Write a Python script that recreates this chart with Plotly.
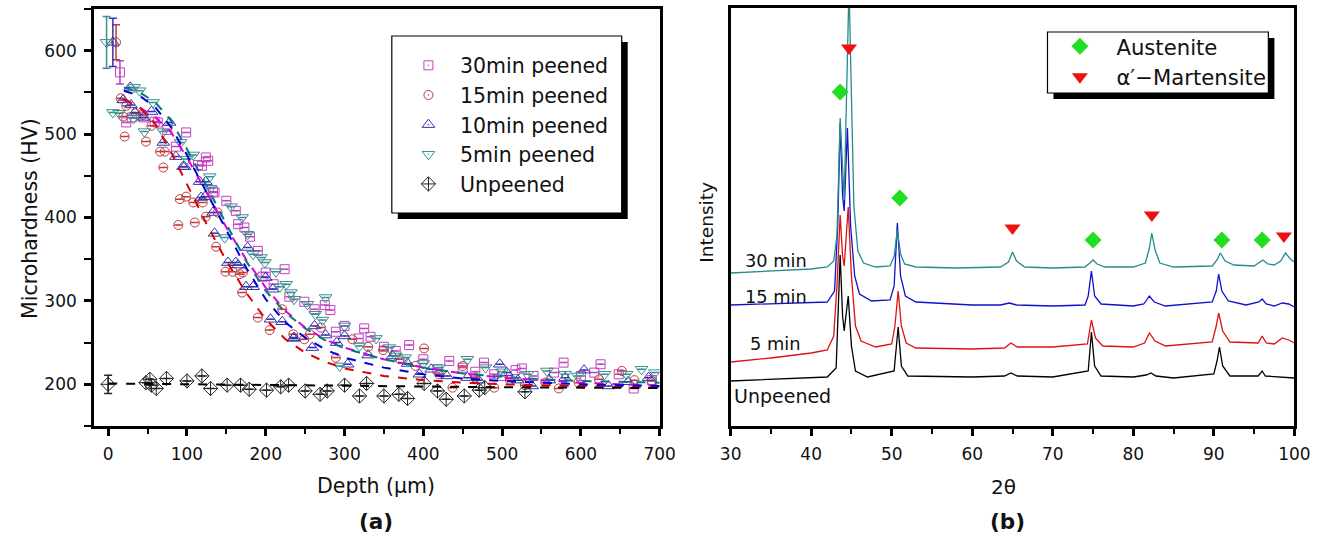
import plotly.graph_objects as go

W, H = 1318, 544
FONT = "DejaVu Sans, Liberation Sans, Arial, sans-serif"

# ---------------- Panel (a): microhardness vs depth ----------------
x_30 = [15, 23, 30, 45, 59, 63, 75, 86, 99, 114, 119, 124, 127, 133, 135, 150, 162, 165, 173, 180, 190, 196, 200, 210, 224, 230, 249, 262, 275, 282, 289, 300, 318, 325, 333, 350, 365, 382, 400, 418, 433, 450, 466, 477, 490, 500, 517, 525, 540, 566, 578, 600, 617, 625, 648, 667, 690]
y_30 = [574, 514, 520, 520, 515, 514, 505, 485, 502, 463, 462, 472, 468, 431, 430, 420, 408, 392, 388, 377, 360, 329, 334, 320, 338, 305, 299, 290, 295, 289, 263, 270, 255, 267, 257, 245, 240, 247, 230, 218, 228, 220, 215, 226, 212, 210, 217, 219, 210, 214, 226, 210, 214, 224, 212, 195, 205]
err_30 = [14] + [0] * (len(x_30) - 1)

x_15 = [10, 16, 19, 21, 23, 35, 44, 48, 55, 66, 70, 72, 89, 91, 99, 108, 110, 120, 124, 137, 139, 149, 158, 167, 170, 171, 190, 205, 221, 235, 249, 256, 270, 289, 310, 330, 349, 370, 390, 401, 420, 437, 450, 466, 490, 510, 529, 555, 572, 597, 623, 652, 668, 690]
y_15 = [610, 543, 521, 497, 534, 525, 523, 491, 510, 479, 460, 479, 391, 422, 425, 418, 394, 418, 401, 365, 406, 335, 335, 332, 310, 334, 280, 265, 290, 260, 254, 260, 268, 232, 254, 245, 241, 230, 222, 243, 212, 196, 222, 208, 196, 205, 199, 202, 195, 202, 206, 216, 205, 204]
err_15 = [21] + [0] * (len(x_15) - 1)

x_10 = [6, 19, 28, 29, 34, 45, 55, 70, 78, 86, 95, 97, 116, 118, 123, 124, 133, 135, 152, 162, 165, 177, 175, 184, 200, 206, 209, 221, 235, 236, 259, 262, 276, 290, 300, 304, 330, 361, 380, 395, 410, 430, 456, 470, 497, 506, 520, 538, 560, 580, 604, 635, 660, 686]
y_10 = [610, 541, 556, 535, 526, 520, 527, 490, 514, 473, 461, 461, 443, 424, 425, 443, 406, 381, 346, 346, 343, 364, 317, 317, 328, 278, 314, 275, 255, 256, 244, 270, 259, 250, 258, 224, 235, 234, 225, 212, 218, 210, 208, 205, 224, 214, 205, 198, 205, 208, 217, 198, 203, 208]
err_10 = [29] + [0] * (len(x_10) - 1)

x_5 = [-2, 6, 14, 32, 33, 40, 46, 57, 70, 92, 100, 108, 129, 130, 148, 156, 170, 177, 184, 194, 199, 213, 218, 226, 232, 236, 253, 263, 272, 276, 294, 300, 319, 340, 357, 365, 377, 400, 420, 456, 479, 500, 532, 557, 580, 596, 630, 658, 677, 694]
y_5 = [610, 526, 525, 519, 556, 552, 503, 538, 503, 490, 470, 475, 449, 435, 376, 413, 400, 380, 356, 352, 346, 335, 317, 320, 310, 302, 296, 284, 277, 304, 222, 270, 246, 255, 244, 234, 232, 225, 220, 230, 220, 215, 212, 216, 212, 210, 212, 212, 218, 214]
err_5 = [31] + [0] * (len(x_5) - 1)

x_un = [0, 48, 53, 55, 61, 74, 100, 119, 130, 151, 168, 179, 201, 219, 229, 250, 269, 278, 300, 319, 328, 350, 369, 380, 401, 418, 429, 452, 471, 478, 529]
y_un = [200, 202, 206, 199, 195, 207, 204, 210, 195, 199, 199, 194, 193, 197, 199, 192, 188, 192, 199, 186, 201, 186, 188, 183, 201, 192, 182, 186, 193, 196, 191]
err_un = [11] + [0] * (len(x_un) - 1)

# fitted (dashed) curves
fit_x = [20, 40, 60, 80, 100, 125, 150, 175, 200, 225, 250, 275, 300, 350, 400, 450, 500, 550, 600, 650, 700]
fit_30 = [542, 532, 520, 502, 472, 430, 388, 350, 316, 288, 268, 254, 244, 230, 220, 213, 208, 205, 202, 200, 198]
fit_15 = [542, 532, 512, 478, 440, 392, 348, 310, 278, 254, 238, 227, 219, 210, 205, 202, 200, 199, 198, 197, 196]
fit_10 = [552, 546, 532, 508, 475, 430, 384, 340, 302, 274, 256, 242, 232, 220, 212, 207, 204, 202, 200, 199, 198]
fit_5 = [556, 550, 538, 516, 482, 438, 392, 348, 312, 286, 267, 253, 243, 230, 220, 213, 209, 206, 204, 203, 202]
fit_un_x = [0, 100, 200, 300, 400, 500, 600, 700]
fit_un = [201, 200, 199, 198, 197, 196.5, 196, 195.5]

# ---------------- Panel (b): XRD patterns ----------------
tt_30 = [30, 35, 40, 42, 42.8, 43.2, 43.6, 44.1, 44.7, 45.3, 45.8, 46.5, 48, 49.8, 50.3, 50.7, 51.1, 51.6, 53, 58, 63.5, 64.5, 65, 65.5, 66.5, 70, 74, 74.6, 75, 75.5, 76.5, 80, 81.5, 82, 82.3, 82.7, 83.3, 85, 89.8, 90.4, 90.8, 91.4, 92.5, 95, 95.6, 96.1, 96.7, 97.5, 98.3, 98.9, 99.5, 100]
int_30 = [153, 155, 157, 159, 165, 190, 308, 226, 440, 220, 175, 163, 159, 160, 170, 196, 172, 162, 159, 158, 159, 164, 174, 165, 159, 158, 159, 163, 166, 162, 159, 159, 163, 178, 193, 176, 163, 159, 160, 166, 173, 165, 161, 160, 163, 166, 162, 161, 165, 173, 167, 164]

tt_15 = [30, 40, 42, 42.9, 43.3, 43.6, 43.9, 44.1, 44.5, 44.9, 45.4, 46, 47.5, 49.8, 50.3, 50.7, 51.1, 51.7, 53, 60, 63.5, 64.6, 65.5, 70, 74, 74.4, 74.8, 75.2, 76, 80, 81.3, 82, 82.6, 84, 89.8, 90.3, 90.6, 91, 91.8, 94, 95.6, 96, 96.5, 97.5, 98.5, 99.3, 100]
int_15 = [121, 123, 124, 135, 200, 303, 230, 215, 298, 200, 150, 132, 125, 126, 140, 203, 150, 130, 124, 121, 121, 123, 121, 120, 121, 130, 155, 130, 122, 120, 122, 130, 124, 120, 124, 135, 152, 135, 125, 121, 124, 127, 122, 120, 123, 122, 119]

tt_5 = [30, 35, 40, 42, 42.8, 43.2, 43.6, 43.9, 44.1, 44.6, 45.0, 45.5, 46.2, 48, 50, 50.4, 50.8, 51.2, 51.8, 53, 60, 64, 64.8, 65.6, 70, 74.3, 74.8, 75.3, 76.2, 80, 81.4, 82, 82.7, 84, 89.8, 90.3, 90.6, 91.1, 92, 95.5, 96, 96.5, 97.5, 98.5, 99.3, 100]
int_5 = [64, 68, 73, 76, 90, 140, 211, 170, 160, 219, 150, 100, 85, 79, 82, 100, 135, 100, 83, 78, 77, 78, 83, 79, 79, 82, 106, 88, 80, 79, 83, 93, 85, 80, 84, 100, 113, 95, 84, 83, 90, 83, 82, 88, 86, 83]

tt_un = [30, 40, 42, 43.1, 43.4, 43.6, 43.9, 44.1, 44.6, 45, 45.5, 47, 50.3, 50.8, 51.2, 52, 60, 64, 64.8, 65.6, 70, 74.4, 74.8, 75.2, 76, 80, 81.6, 82.2, 82.8, 85, 90, 90.4, 90.7, 91.1, 92, 95.5, 96, 96.4, 100]
int_un = [45, 48, 49, 58, 120, 171, 110, 95, 130, 80, 55, 49, 55, 99, 60, 50, 49, 50, 53, 50, 49, 55, 94, 60, 50, 49, 51, 53, 50, 48, 52, 65, 79, 60, 50, 50, 55, 50, 48]

aus_tt = [43.6, 51.0, 75.0, 91.0, 96.0]
aus_int = [334, 228, 186, 186, 186]
mart_tt = [44.7, 65.0, 82.3, 98.7]
mart_int = [378, 198, 211, 190]

# ---------------- figure ----------------
# horizontal calibration of page position -> paper fraction
def px(x):
    return ((x - 8) / 0.98) / W

def py(y):
    return 1 - y / H

fig = go.Figure()

C30, C15, C10, C5 = "#C040C0", "#C03A3A", "#3434A8", "#3A9090"

def pts(x, y, err, name, sym, col, size):
    return go.Scatter(
        x=x, y=y, mode="markers", name=name, legend="legend",
        marker=dict(symbol=sym, size=size, color=col, line=dict(width=1, color=col)),
        error_y=dict(type="data", array=err, visible=True, color=col, thickness=1.5, width=4),
        xaxis="x", yaxis="y",
    )

fig.add_trace(pts(x_30, y_30, err_30, "30min peened", "square-open-dot", C30, 9))
fig.add_trace(pts(x_15, y_15, err_15, "15min peened", "circle-open-dot", C15, 9))
fig.add_trace(pts(x_10, y_10, err_10, "10min peened", "triangle-up-open-dot", C10, 11))
fig.add_trace(pts(x_5, y_5, err_5, "5min peened", "triangle-down-open-dot", C5, 11))
fig.add_trace(pts(x_un, y_un, err_un, "Unpeened", "diamond-cross-open", "#222222", 11))

for fy, col in [(fit_30, "#DD00DD"), (fit_15, "#DD0000"), (fit_10, "#0000DD"), (fit_5, "#007A7A")]:
    fig.add_trace(go.Scatter(x=fit_x, y=fy, mode="lines", showlegend=False,
                             line=dict(color=col, width=2, dash="dash"), xaxis="x", yaxis="y"))
fig.add_trace(go.Scatter(x=fit_un_x, y=fit_un, mode="lines", showlegend=False,
                         line=dict(color="black", width=2, dash="dash"), xaxis="x", yaxis="y"))

# XRD curves
for tt, it, col in [(tt_un, int_un, "#000000"), (tt_5, int_5, "#DD1111"), (tt_15, int_15, "#1111CC"), (tt_30, int_30, "#2A8A8A")]:
    fig.add_trace(go.Scatter(x=tt, y=it, mode="lines", showlegend=False,
                             line=dict(color=col, width=1.3), xaxis="x2", yaxis="y2"))

fig.add_trace(go.Scatter(x=aus_tt, y=aus_int, mode="markers", name="Austenite", legend="legend2",
                         marker=dict(symbol="diamond", size=13, color="#22DD22"), xaxis="x2", yaxis="y2"))
fig.add_trace(go.Scatter(x=mart_tt, y=mart_int, mode="markers", name="α′−Martensite", legend="legend2",
                         marker=dict(symbol="triangle-down", size=14, color="#EE1111"), xaxis="x2", yaxis="y2"))

TICKFONT = dict(family=FONT, size=17, color="#111")
axis_common = dict(showline=True, linecolor="black", linewidth=2.5, mirror=True,
                   showgrid=False, zeroline=False, tickfont=TICKFONT)

fig.update_layout(
    width=W, height=H,
    margin=dict(l=0, r=0, t=0, b=0),
    paper_bgcolor="white", plot_bgcolor="white",
    font=dict(family=FONT, color="#111"),
    xaxis=dict(domain=[px(91), px(657)], range=[-18, 700], tickvals=[0, 100, 200, 300, 400, 500, 600, 700],
               ticks="outside", ticklen=7, tickwidth=2.5, tickcolor="black", ticklabelstandoff=4,
               minor=dict(ticks="outside", ticklen=5, tickwidth=2, tickcolor="black", dtick=50, tick0=0),
               anchor="y", **axis_common),
    yaxis=dict(domain=[py(426), py(9)], range=[150, 650], tickvals=[200, 300, 400, 500, 600],
               ticks="outside", ticklen=7, tickwidth=2.5, tickcolor="black", ticklabelstandoff=4,
               minor=dict(ticks="outside", ticklen=7, tickwidth=2, tickcolor="black", dtick=50, tick0=0),
               anchor="x", **axis_common),
    xaxis2=dict(domain=[px(728), px(1292)], range=[30, 100], tickvals=[30, 40, 50, 60, 70, 80, 90, 100],
                ticks="outside", ticklen=7, tickwidth=2.5, tickcolor="black", ticklabelstandoff=4,
                minor=dict(ticks="outside", ticklen=5, tickwidth=2, tickcolor="black", dtick=5, tick0=0),
                anchor="y2", **axis_common),
    yaxis2=dict(domain=[py(426), py(8)], range=[0, 418], showticklabels=False, ticks="",
                anchor="x2", **axis_common),
    legend=dict(x=394 / W, y=py(45.5), xanchor="left", yanchor="top",
                bgcolor="rgba(0,0,0,0)", borderwidth=0,
                font=dict(family=FONT, size=20.5, color="#111"), tracegroupgap=0,
                itemwidth=53),
    legend2=dict(x=1054 / W, y=py(26), xanchor="left", yanchor="top",
                 bgcolor="rgba(0,0,0,0)", borderwidth=0,
                 font=dict(family=FONT, size=21.2, color="#111"), tracegroupgap=0,
                 itemwidth=63),
    shapes=[
        dict(type="rect", xref="paper", yref="paper", x0=px(395), x1=px(625), y0=py(219), y1=py(42),
             fillcolor="black", line=dict(width=0), layer="above"),
        dict(type="rect", xref="paper", yref="paper", x0=px(389), x1=px(619), y0=py(213), y1=py(36),
             fillcolor="white", line=dict(width=1.2, color="black"), layer="above"),
        dict(type="rect", xref="paper", yref="paper", x0=px(1051), x1=px(1272), y0=py(99), y1=py(38),
             fillcolor="black", line=dict(width=0), layer="above"),
        dict(type="rect", xref="paper", yref="paper", x0=px(1045), x1=px(1266), y0=py(93), y1=py(32),
             fillcolor="white", line=dict(width=1.2, color="black"), layer="above"),
    ],
)

ann = [
    ("Microhardness (HV)", 27, 218, 20.5, -90),
    ("Depth (μm)", 373, 486, 20.5, 0),
    ("<b>(a)</b>", 373, 521, 21.5, 0),
    ("Intensity", 703, 222, 18.5, -90),
    ("2θ", 1001, 487, 20, 0),
    ("<b>(b)</b>", 1005, 521, 21.5, 0),
    ("30 min", 773, 260, 17.8, 0),
    ("15 min", 773, 296, 17.8, 0),
    ("5 min", 773, 343, 17.8, 0),
    ("Unpeened", 780, 396, 19, 0),
]
fig.update_layout(annotations=[
    dict(text=t, x=px(x), y=py(y), xref="paper", yref="paper", showarrow=False,
         xanchor="center", yanchor="middle", textangle=a,
         font=dict(family=FONT, size=s, color="#111"))
    for t, x, y, s, a in ann
])

fig.write_html(
    "out.html",
    config={"displayModeBar": False},
    post_script=("document.body.style.margin='0';document.body.style.padding='0';"
                 "document.body.style.overflow='hidden';"
                 "document.documentElement.style.overflow='hidden';"),
)
